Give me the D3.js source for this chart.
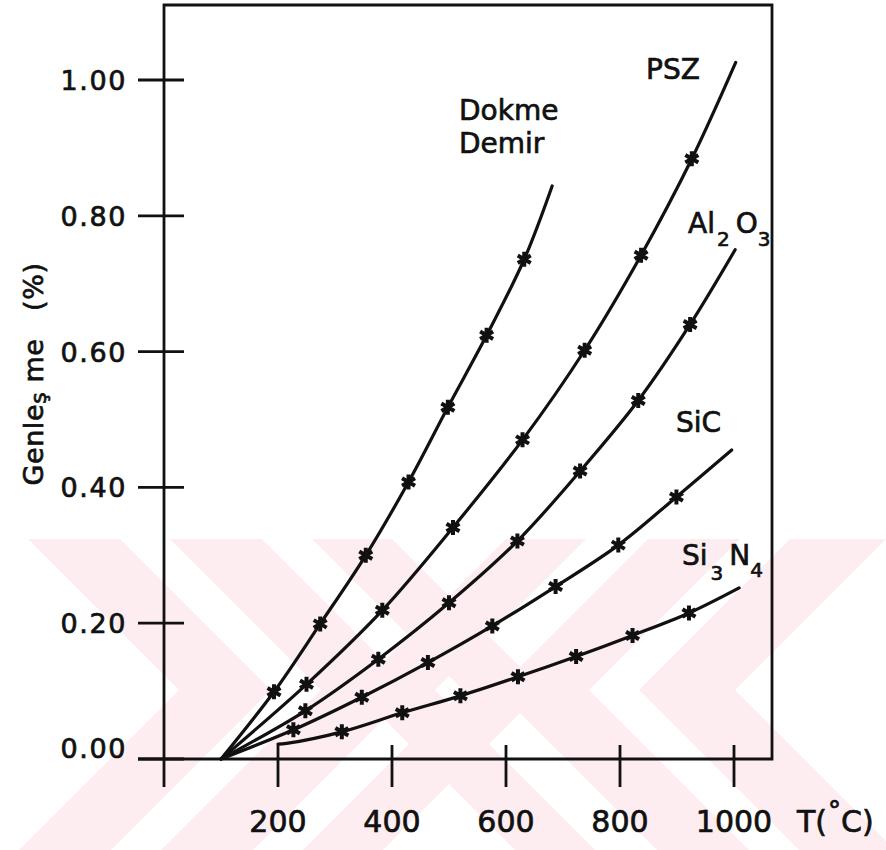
<!DOCTYPE html>
<html><head><meta charset="utf-8">
<script src="https://cdn.jsdelivr.net/npm/d3@7"></script>
<style>body{margin:0;background:#fff}svg{display:block}</style>
</head><body><svg id="c" width="886" height="850"></svg>
<script>
// ---------- data ----------
const xTicks = [200, 400, 600, 800, 1000];
const yTicks = [0, 0.2, 0.4, 0.6, 0.8, 1.0];
const yTickLabels = ["0.00", "0.20", "0.40", "0.60", "0.80", "1.00"];

const dokmeT = [193, 274, 354, 429, 498, 566, 632];
const dokmeV = [0.099, 0.199, 0.300, 0.408, 0.518, 0.624, 0.736];
const dokmeStart = [100, 0], dokmeEnd = [681, 0.844];

const pszT = [250, 383, 507, 629, 738, 837, 926];
const pszV = [0.110, 0.219, 0.341, 0.470, 0.602, 0.742, 0.884];
const pszStart = [100, 0], pszEnd = [1003, 1.026];

const alT = [248, 376, 500, 620, 730, 832, 923];
const alV = [0.071, 0.147, 0.230, 0.321, 0.424, 0.528, 0.640];
const alStart = [100, 0], alEnd = [1002, 0.750];

const sicT = [227, 347, 463, 576, 687, 797, 899];
const sicV = [0.043, 0.091, 0.142, 0.196, 0.254, 0.315, 0.386];
const sicStart = [100, 0], sicEnd = [996, 0.455];

const sinT = [312, 418, 520, 621, 723, 822, 921];
const sinV = [0.040, 0.068, 0.093, 0.121, 0.151, 0.182, 0.215];
const sinStart = [200, 0.022], sinStub = [215, 0.023], sinEnd = [1009, 0.252];

// ---------- setup ----------
const svg = d3.select("#c");
const FONT = "DejaVu Sans, Verdana, sans-serif";
const x = d3.scaleLinear().domain([0, 1000]).range([164, 734]);
const y = d3.scaleLinear().domain([0, 1]).range([759, 80]);
const INK = "#111";

// ---------- watermark (background decoration) ----------
const wm = svg.append("g").attr("fill", "#fdedf0");
const wmTop = 539, wmMid = 690, wmBot = 850;
function chevron(x0, w, dir) { // dir=+1 ">" , -1 "<"
  const d = (wmMid - wmTop) * dir, d2 = (wmBot - wmMid) * dir;
  return [[x0, wmTop], [x0 + w, wmTop], [x0 + w + d, wmMid], [x0 + w + d - d2, wmBot], [x0 + d - d2, wmBot], [x0 + d, wmMid]];
}
[[28, 92, 1], [170, 92, 1], [312, 80, 1], [790, 96, -1], [648, 92, -1], [506, 80, -1]].forEach(c => {
  wm.append("polygon").attr("points", chevron(c[0], c[1], c[2]).map(p => p.join(",")).join(" "));
});

// ---------- frame & axes ----------
const ax = svg.append("g").attr("stroke", INK).attr("stroke-width", 2.8).attr("fill", "none");
ax.append("path").attr("d", `M${x(0)},${y(0) + 28} V5 H772 V${y(0)} H${x(0) - 26}`);
xTicks.forEach(t => ax.append("line").attr("x1", x(t)).attr("x2", x(t)).attr("y1", y(0) - 14).attr("y2", y(0) + 28));
yTicks.forEach(t => ax.append("line").attr("x1", x(0) - 26).attr("x2", x(0) + 20).attr("y1", y(t)).attr("y2", y(t)));

const txt = svg.append("g").attr("font-family", FONT).attr("fill", INK)
  .attr("stroke", INK).attr("stroke-width", 0.7);
xTicks.forEach(t => txt.append("text").attr("x", x(t)).attr("y", 832).attr("text-anchor", "middle")
  .attr("font-size", 30).text(t));
yTicks.forEach((t, i) => txt.append("text").attr("x", 127).attr("y", t === 0 ? y(t) - 1 : y(t) + 10)
  .attr("text-anchor", "end").attr("font-size", 27).attr("letter-spacing", 1.6).text(yTickLabels[i]));

// x axis title T(°C)
const tt = txt.append("text").attr("x", 797).attr("y", 832).attr("font-size", 30);
tt.append("tspan").text("T(");
tt.append("tspan").attr("dy", -12).attr("font-size", 26).attr("dx", 1).text("°");
tt.append("tspan").attr("dy", 12).text("C)");

// y axis title
const yt = txt.append("text").attr("transform", "translate(43,374) rotate(-90)").attr("text-anchor", "middle")
  .attr("font-size", 27).attr("letter-spacing", 0.6);
yt.append("tspan").text("Genle");
yt.append("tspan").attr("font-size", 22).attr("dy", 3).text("ş");
yt.append("tspan").attr("dy", -3).text(" me\u00a0\u00a0\u00a0(%)");

// ---------- series ----------
const line = d3.line().x(d => x(d[0])).y(d => y(d[1])).curve(d3.curveCatmullRom.alpha(0.5));
const series = [
  { pts: [dokmeStart, ...d3.zip(dokmeT, dokmeV), dokmeEnd], mk: d3.zip(dokmeT, dokmeV) },
  { pts: [pszStart, ...d3.zip(pszT, pszV), pszEnd], mk: d3.zip(pszT, pszV) },
  { pts: [alStart, ...d3.zip(alT, alV), alEnd], mk: d3.zip(alT, alV) },
  { pts: [sicStart, ...d3.zip(sicT, sicV), sicEnd], mk: d3.zip(sicT, sicV) },
  { pts: [sinStart, sinStub, ...d3.zip(sinT, sinV), sinEnd], mk: d3.zip(sinT, sinV) }
];
const sg = svg.append("g");
series.forEach(s => {
  sg.append("path").attr("d", line(s.pts)).attr("fill", "none").attr("stroke", INK)
    .attr("stroke-width", 3.2).attr("stroke-linecap", "round");
});
// asterisk markers
const R = 7.5;
const astPath = [90, 30, -30].map(a => {
  const r = a * Math.PI / 180, dx = R * Math.cos(r), dy = R * Math.sin(r);
  return `M${-dx},${-dy}L${dx},${dy}`;
}).join("");
series.forEach(s => {
  sg.selectAll(null).data(s.mk).enter().append("path")
    .attr("transform", d => `translate(${x(d[0])},${y(d[1])})`)
    .attr("d", astPath).attr("stroke", INK).attr("stroke-width", 4).attr("fill", "none");
  sg.selectAll(null).data(s.mk).enter().append("circle")
    .attr("cx", d => x(d[0])).attr("cy", d => y(d[1])).attr("r", 3.5).attr("fill", INK);
});

// ---------- series labels ----------
const lab = svg.append("g").attr("font-family", FONT).attr("fill", INK).attr("font-size", 28)
  .attr("stroke", INK).attr("stroke-width", 0.7);
lab.append("text").attr("x", 459).attr("y", 120).text("Dokme");
lab.append("text").attr("x", 459).attr("y", 153).text("Demir");
lab.append("text").attr("x", 646).attr("y", 79).text("PSZ");
const al = lab.append("text").attr("x", 688).attr("y", 233);
al.append("tspan").text("Al");
al.append("tspan").attr("dy", 13).attr("dx", 2).attr("font-size", 20).text("2");
al.append("tspan").attr("dy", -13).attr("dx", 6).text("O");
al.append("tspan").attr("dy", 13).attr("dx", 0).attr("font-size", 20).text("3");
lab.append("text").attr("x", 676).attr("y", 432).text("SiC");
const sn = lab.append("text").attr("x", 682).attr("y", 565);
sn.append("tspan").text("Si");
sn.append("tspan").attr("dy", 15).attr("dx", 3).attr("font-size", 20).text("3");
sn.append("tspan").attr("dy", -15).attr("dx", 6).text("N");
sn.append("tspan").attr("dy", 12).attr("font-size", 20).text("4");
</script></body></html>
